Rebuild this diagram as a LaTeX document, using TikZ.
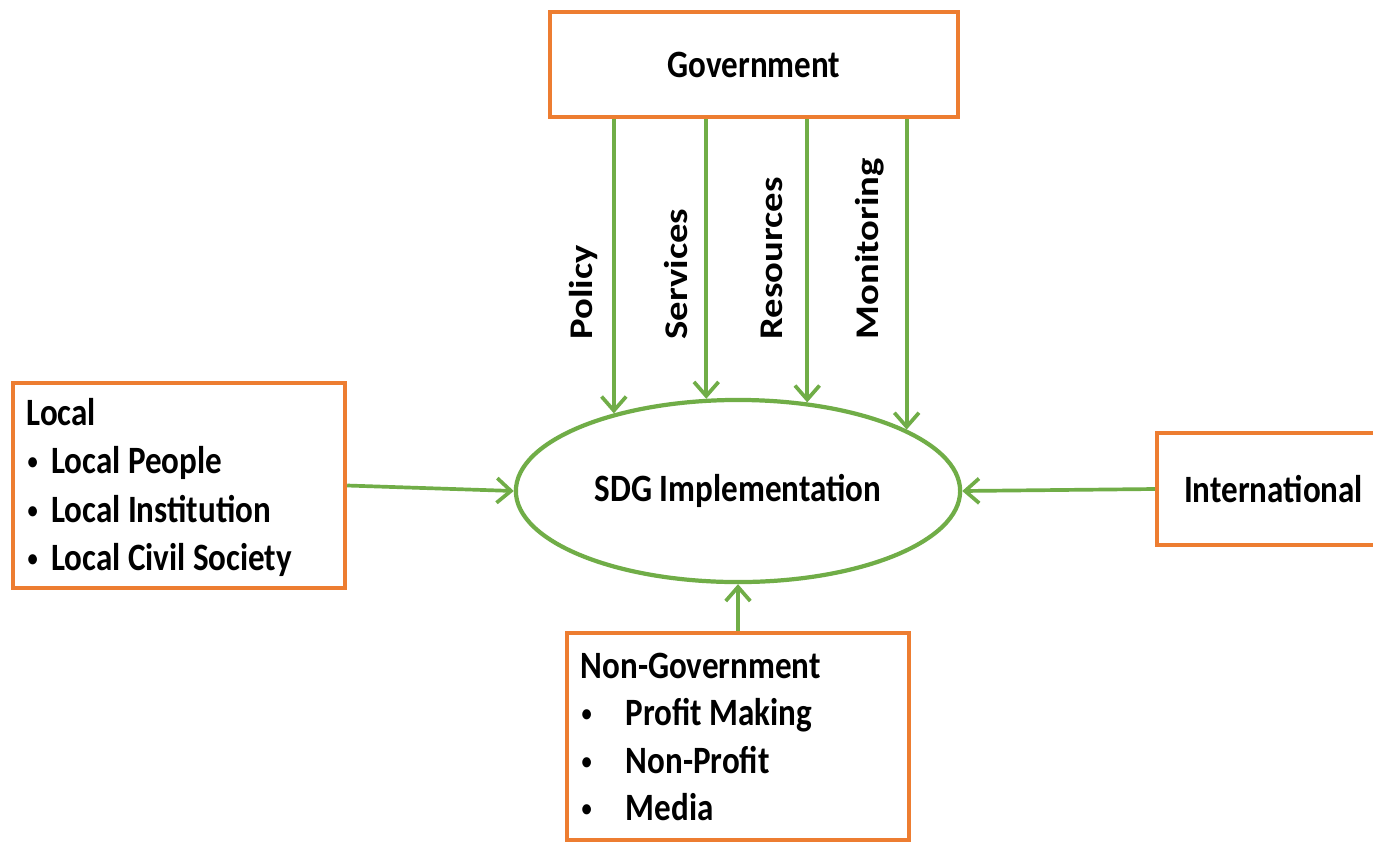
\documentclass[tikz,border=0pt]{standalone}
\usepackage{fontspec}
\usepackage{graphicx}
\setmainfont{Carlito}
\newfontfamily\hfont[FakeStretch=0.855]{Carlito}
\newfontfamily\vfont[FakeStretch=1.17]{Carlito}
\newcommand\smallbul{\raisebox{0.1em}{\scalebox{0.62}{•}}}
\usetikzlibrary{shapes.geometric, arrows.meta}
\definecolor{boxorange}{HTML}{ED7D31}
\definecolor{arrgreen}{HTML}{70AD47}
\begin{document}
\begin{tikzpicture}[x=0.01cm, y=-0.01cm,
  box/.style={draw=boxorange, line width=1.2pt, rectangle, inner sep=0pt, fill=white},
  txt/.style={font=\hfont\bfseries\fontsize{11}{13}\selectfont, inner sep=0pt},
  itemtxt/.style={txt, anchor=base west},
  vtxt/.style={font=\vfont\bfseries\fontsize{9.4}{11}\selectfont, inner sep=0pt, rotate=90, anchor=base west},
  link/.style={draw=arrgreen, line width=1.05pt},
  arr/.style={link, -{Straight Barb[length=4pt, width=7pt]}}]
\useasboundingbox (0,0) rectangle (1373,842);
\clip (0,0) rectangle (1373,842);
\fill[white] (0,0) rectangle (1373,842);
% boxes
\node[box, txt, minimum width=4.08cm, minimum height=1.05cm] (gov) at (754,64.5) {Government};
\node[box, minimum width=3.32cm, minimum height=2.05cm] (local) at (179,485.5) {};
\node[box, txt, minimum width=2.33cm, minimum height=1.12cm] (intl) at (1273.5,489) {International};
\node[box, minimum width=3.42cm, minimum height=2.07cm] (ngo) at (738,736.5) {};
\node[ellipse, draw=arrgreen, line width=1.2pt, fill=white, minimum width=4.44cm, minimum height=1.82cm, inner sep=0pt, txt] (sdg) at (738,491) {SDG Implementation};
% local text
\node[itemtxt] (l0) at (26,425) {Local};
\node[itemtxt] (l1) at (27,473) {\makebox[0.235cm][l]{\smallbul}Local People};
\node[itemtxt] (l2) at (27,522) {\makebox[0.235cm][l]{\smallbul}Local Institution};
\node[itemtxt] (l3) at (27,570) {\makebox[0.235cm][l]{\smallbul}Local Civil Society};
% non-government text
\node[itemtxt] (n0) at (580,678) {Non-Government};
\node[itemtxt] (n1) at (581,725) {\makebox[0.44cm][l]{\smallbul}Profit Making};
\node[itemtxt] (n2) at (581,773) {\makebox[0.44cm][l]{\smallbul}Non-Profit};
\node[itemtxt] (n3) at (581,820) {\makebox[0.44cm][l]{\smallbul}Media};
% rotated labels
\node[vtxt] (pol) at (592,340) {Policy};
\node[vtxt] (ser) at (687,340) {Services};
\node[vtxt] (res) at (782,340) {Resources};
\node[vtxt] (mon) at (878,340) {Monitoring};
% arrows
\draw[arr] (sdg.148.7 |- gov.south) -- (sdg.148.7);
\draw[arr] (sdg.109 |- gov.south) -- (sdg.109);
\draw[arr] (sdg.52.8 |- gov.south) -- (sdg.52.8);
\draw[arr] (sdg.20.8 |- gov.south) -- (sdg.20.8);
\draw[arr] (local.east) -- (sdg.west);
\draw[arr] (intl.west) -- (sdg.east);
\draw[arr] (ngo.north) -- (sdg.south);
\end{tikzpicture}
\end{document}
